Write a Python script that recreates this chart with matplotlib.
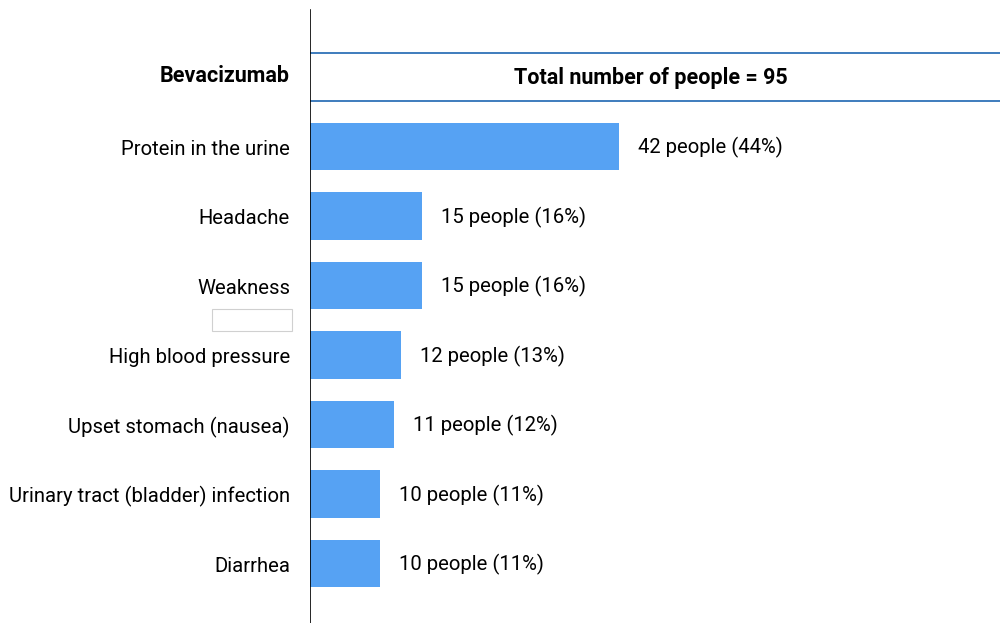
import matplotlib.pyplot as plt
from matplotlib.patches import Rectangle

plt.rcParams['font.family'] = ['Roboto', 'DejaVu Sans']

# side effects, people counts and percentages
effects = ["Protein in the urine", "Headache", "Weakness", "High blood pressure",
           "Upset stomach (nausea)", "Urinary tract (bladder) infection", "Diarrhea"]
people = [42, 15, 15, 12, 11, 10, 10]
percent = [44, 16, 16, 13, 12, 11, 11]
# bar lengths as drawn in the picture (percent scale)
bar_len = [44, 16, 16, 13, 12, 10, 10]
drug = "Bevacizumab"
total = 95

fig = plt.figure(figsize=(10, 6.23), dpi=100)
ax = fig.add_axes([0.31, 0, 0.69, 1])

y = list(range(len(effects)))
ax.barh(y, bar_len, height=0.68, color="#56a2f3", zorder=2)

ax.set_xlim(0, 98.3)
ax.set_ylim(6.856, -2.108)
ax.axis("off")

# vertical axis line
ax.axvline(0, ymin=0, ymax=0.984, color="black", lw=1.2, zorder=3)

# header band
ax.axhline(-1.345, color="#2f72b8", lw=1.3)
ax.axhline(-0.655, color="#2f72b8", lw=1.3)
ax.text(48.5, -0.99, f"Total number of people = {total}", ha="center", va="center",
        fontsize=15.5, fontweight="bold")
ax.text(-2.85, -1.02, drug, ha="right", va="center", fontsize=15.5,
        fontweight="bold", clip_on=False)

for yi, name, b, n, p in zip(y, effects, bar_len, people, percent):
    ax.text(-2.85, yi + 0.04, name, ha="right", va="center", fontsize=14.6, clip_on=False)
    ax.text(b + 2.7, yi + 0.02, f"{n} people ({p}%)", ha="left", va="center", fontsize=14.6)

# small empty box left over in the source image
ax.add_patch(Rectangle((-13.96, 2.338), 11.4, 0.317, fill=False, ec="#d0d0d0",
                       lw=0.8, clip_on=False))

fig.savefig("out.png", dpi=100)
